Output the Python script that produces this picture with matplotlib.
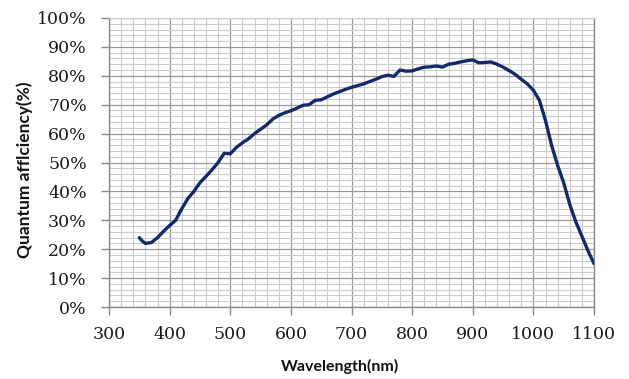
import matplotlib
matplotlib.use("Agg")
import matplotlib.pyplot as plt
from matplotlib.ticker import MultipleLocator, FuncFormatter

wavelength = [350, 355, 360, 370, 380, 390, 400, 410, 420, 430, 440, 450, 460, 470, 480, 490,
              500, 510, 520, 530, 540, 550, 560, 570, 580, 590, 600, 610, 620, 630, 640, 650,
              660, 670, 680, 690, 700, 710, 720, 730, 740, 750, 760, 770, 780, 790, 800, 810,
              820, 830, 840, 850, 860, 870, 880, 890, 900, 910, 920, 930, 940, 950, 960, 970,
              980, 990, 1000, 1010, 1020, 1030, 1040, 1050, 1060, 1070, 1080, 1090, 1100]
qe = [24.0, 22.8, 22.0, 22.3, 24.0, 26.2, 28.2, 30.0, 34.0, 37.5, 40.0, 43.0, 45.2, 47.5, 50.0, 53.2,
      53.0, 55.2, 56.8, 58.2, 60.0, 61.5, 63.0, 65.0, 66.3, 67.2, 67.9, 68.8, 69.8, 70.0, 71.5, 71.7,
      72.7, 73.7, 74.5, 75.3, 76.0, 76.6, 77.2, 78.0, 78.8, 79.7, 80.2, 79.8, 82.0, 81.6, 81.7, 82.4,
      83.0, 83.1, 83.4, 83.0, 84.0, 84.3, 84.8, 85.2, 85.5, 84.5, 84.6, 84.8, 84.0, 83.0, 81.8, 80.5,
      78.8, 77.2, 75.0, 71.5, 64.5, 56.0, 49.0, 43.0, 35.5, 29.5, 24.5, 19.5, 15.0]

x_label = "Wavelength(nm)"
y_label = "Quantum afflciency(%)"

fig = plt.figure(figsize=(6.29, 3.79), dpi=100)
ax = fig.add_axes([109/629, 1-307/379, (594-109)/629, (307-18)/379])

ax.plot(wavelength, qe, color="#14296b", linewidth=2.4, solid_capstyle="round", zorder=3)

ax.set_xlim(300, 1100)
ax.set_ylim(0, 100)
ax.xaxis.set_major_locator(MultipleLocator(100))
ax.xaxis.set_minor_locator(MultipleLocator(20))
ax.yaxis.set_major_locator(MultipleLocator(10))
ax.yaxis.set_minor_locator(MultipleLocator(2))
ax.yaxis.set_major_formatter(FuncFormatter(lambda v, p: f"{int(round(v))}%"))

ax.grid(which="major", color="#9a9a9a", linewidth=0.9, zorder=1)
ax.grid(which="minor", color="#cccccc", linewidth=0.8, zorder=0)
ax.set_axisbelow(True)

for side in ["left", "bottom", "right"]:
    ax.spines[side].set_color("#8a8a8a")
    ax.spines[side].set_linewidth(1.0)
ax.spines["top"].set_color("#d0d0d0")

ax.tick_params(which="major", direction="out", length=6, color="#8a8a8a", width=1.0,
               labelsize=12.5)
ax.tick_params(axis="y", which="major", pad=10)
ax.tick_params(axis="x", which="major", pad=8)
ax.tick_params(which="minor", length=0)
for lab in ax.get_xticklabels() + ax.get_yticklabels():
    lab.set_family("DejaVu Serif")
    lab.set_color("#1a1a1a")

ax.set_xlabel(x_label, fontfamily="Lato", fontweight="bold", fontsize=11.5, color="#111111")
ax.set_ylabel(y_label, fontfamily="Lato", fontweight="bold", fontsize=12.5, color="#111111")
ax.xaxis.set_label_coords((340 - 109) / 485, (307 - 366) / 289)
ax.yaxis.set_label_coords((25 - 109) / 485, (307 - 170) / 289)
ax.xaxis.label.set_va("center")
ax.yaxis.label.set_va("center")

fig.savefig("out.png", dpi=100)
